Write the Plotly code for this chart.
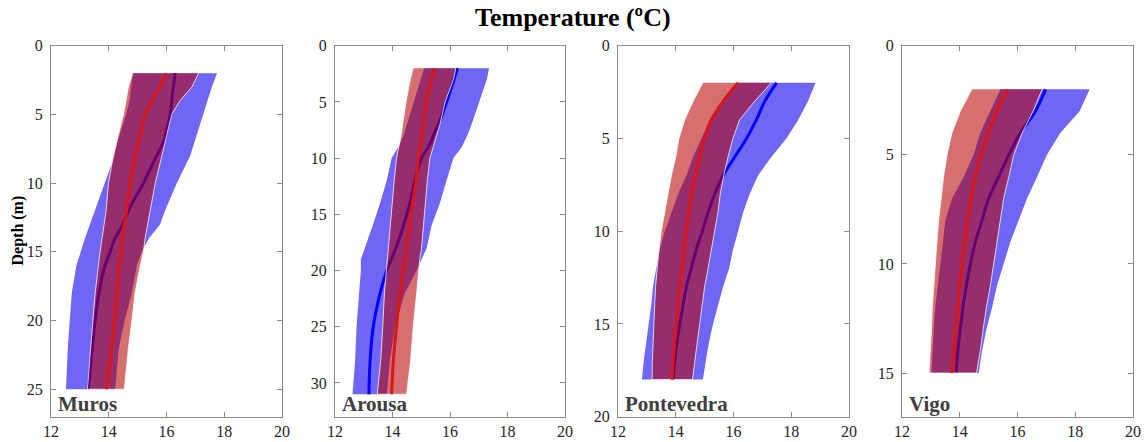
import plotly.graph_objects as go

# ---------------- data (Temperature ºC vs depth m) ----------------
stations = ["Muros", "Arousa", "Pontevedra", "Vigo"]

muros_depth = [2, 3, 4, 5, 6, 7, 8, 10, 12, 13, 14, 15, 16, 18, 20, 22, 25]
muros_blue_mean = [16.30, 16.24, 16.18, 16.13, 16.02, 15.90, 15.66, 15.20, 14.68, 14.49, 14.22, 14.05, 13.87, 13.66, 13.53, 13.43, 13.29]
muros_blue_lo = [14.83, 14.78, 14.72, 14.60, 14.45, 14.30, 14.20, 13.87, 13.53, 13.35, 13.18, 13.02, 12.88, 12.72, 12.64, 12.58, 12.52]
muros_blue_hi = [17.75, 17.57, 17.42, 17.28, 17.12, 16.97, 16.82, 16.36, 15.95, 15.78, 15.40, 15.14, 14.97, 14.80, 14.55, 14.35, 14.22]
muros_red_mean = [15.98, 15.78, 15.49, 15.26, 15.14, 15.03, 14.91, 14.74, 14.62, 14.54, 14.48, 14.42, 14.37, 14.28, 14.20, 14.10, 13.91]
muros_red_lo = [14.83, 14.68, 14.60, 14.51, 14.39, 14.28, 14.16, 13.99, 13.91, 13.84, 13.76, 13.70, 13.64, 13.53, 13.45, 13.38, 13.26]
muros_red_hi = [17.11, 16.88, 16.47, 16.18, 16.07, 15.95, 15.84, 15.61, 15.43, 15.35, 15.26, 15.20, 15.09, 14.91, 14.80, 14.68, 14.54]

arousa_depth = [2, 3, 5, 7, 8, 9, 10, 12, 14, 16, 18, 19, 20, 22, 25, 28, 31]
arousa_blue_mean = [16.26, 16.14, 15.88, 15.60, 15.42, 15.25, 15.01, 14.78, 14.61, 14.38, 14.12, 13.96, 13.80, 13.57, 13.33, 13.22, 13.18]
arousa_blue_lo = [15.10, 14.98, 14.72, 14.49, 14.38, 14.20, 13.97, 13.80, 13.57, 13.31, 13.04, 12.90, 12.90, 12.84, 12.75, 12.70, 12.61]
arousa_blue_hi = [17.36, 17.28, 17.02, 16.75, 16.60, 16.41, 16.12, 15.88, 15.65, 15.36, 15.19, 15.01, 14.84, 14.43, 14.09, 13.91, 13.80]
arousa_red_mean = [15.44, 15.36, 15.17, 15.07, 15.02, 14.96, 14.90, 14.82, 14.70, 14.58, 14.49, 14.44, 14.38, 14.26, 14.14, 14.03, 13.97]
arousa_red_lo = [14.72, 14.62, 14.47, 14.36, 14.30, 14.22, 14.14, 14.06, 13.99, 13.92, 13.86, 13.83, 13.80, 13.72, 13.66, 13.59, 13.47]
arousa_red_hi = [16.20, 16.12, 15.83, 15.65, 15.54, 15.42, 15.30, 15.21, 15.13, 15.07, 15.01, 14.95, 14.90, 14.84, 14.72, 14.63, 14.49]

ponte_depth = [2, 3, 4, 5, 6, 7, 8, 9, 10, 11, 12, 13, 14, 15, 16, 17, 18]
ponte_blue_mean = [17.49, 17.08, 16.79, 16.45, 16.04, 15.64, 15.35, 15.12, 14.92, 14.71, 14.54, 14.37, 14.25, 14.14, 14.04, 13.96, 13.91]
ponte_blue_lo = [16.10, 15.58, 15.18, 14.89, 14.60, 14.37, 14.08, 13.85, 13.62, 13.44, 13.33, 13.21, 13.15, 13.06, 12.96, 12.89, 12.83]
ponte_blue_hi = [18.84, 18.58, 18.24, 17.83, 17.31, 16.85, 16.56, 16.33, 16.16, 15.98, 15.85, 15.64, 15.46, 15.29, 15.15, 15.04, 14.94]
ponte_red_mean = [16.16, 15.64, 15.23, 15.00, 14.83, 14.68, 14.54, 14.45, 14.37, 14.29, 14.22, 14.14, 14.08, 14.02, 13.96, 13.91, 13.87]
ponte_red_lo = [14.94, 14.60, 14.31, 14.11, 14.00, 13.85, 13.73, 13.62, 13.50, 13.42, 13.35, 13.30, 13.27, 13.24, 13.21, 13.19, 13.18]
ponte_red_hi = [17.31, 16.73, 16.21, 15.98, 15.81, 15.66, 15.54, 15.46, 15.35, 15.23, 15.12, 15.00, 14.92, 14.83, 14.75, 14.66, 14.58]

vigo_depth = [2, 3, 4, 5, 6, 7, 8, 9, 10, 11, 12, 13, 14, 15]
vigo_blue_mean = [16.97, 16.62, 16.10, 15.70, 15.35, 15.00, 14.77, 14.54, 14.37, 14.23, 14.11, 14.02, 13.93, 13.88]
vigo_blue_lo = [15.41, 15.06, 14.71, 14.48, 14.14, 13.73, 13.50, 13.42, 13.33, 13.24, 13.15, 13.10, 13.06, 13.02]
vigo_blue_hi = [18.50, 18.15, 17.48, 17.02, 16.68, 16.33, 16.04, 15.75, 15.52, 15.29, 15.12, 14.92, 14.77, 14.66]
vigo_red_mean = [15.64, 15.29, 15.00, 14.75, 14.54, 14.39, 14.28, 14.17, 14.08, 14.00, 13.93, 13.86, 13.79, 13.73]
vigo_red_lo = [14.42, 14.02, 13.73, 13.56, 13.44, 13.35, 13.27, 13.21, 13.15, 13.10, 13.05, 13.02, 12.98, 12.94]
vigo_red_hi = [16.85, 16.54, 16.16, 15.87, 15.70, 15.52, 15.41, 15.29, 15.18, 15.06, 14.92, 14.81, 14.71, 14.58]

x_ticks = [12, 14, 16, 18, 20]
y_max = [27, 33, 20, 17]
y_tick_sets = [[0, 5, 10, 15, 20, 25], [0, 5, 10, 15, 20, 25, 30], [0, 5, 10, 15, 20], [0, 5, 10, 15]]

panels = [
    (muros_depth, muros_blue_mean, muros_blue_lo, muros_blue_hi, muros_red_mean, muros_red_lo, muros_red_hi),
    (arousa_depth, arousa_blue_mean, arousa_blue_lo, arousa_blue_hi, arousa_red_mean, arousa_red_lo, arousa_red_hi),
    (ponte_depth, ponte_blue_mean, ponte_blue_lo, ponte_blue_hi, ponte_red_mean, ponte_red_lo, ponte_red_hi),
    (vigo_depth, vigo_blue_mean, vigo_blue_lo, vigo_blue_hi, vigo_red_mean, vigo_red_lo, vigo_red_hi),
]

# ---------------- styling ----------------
W, H = 1146, 442
x_domains_px = [(51, 282), (335, 565), (618, 849), (902, 1133)]
y_top_px, y_bot_px = 45.7, 416.7
FONT = "Liberation Serif, Times New Roman, serif"
BLUE_FILL = "rgba(15,0,238,0.6)"
RED_FILL = "rgba(182,0,0,0.56)"
BLUE_LINE = "rgb(0,0,255)"
RED_LINE = "rgb(218,22,22)"
AXIS_COL = "#8a8a8a"

fig = go.Figure()
layout_axes = {}
annotations = []

for i, (d, bm, bl, bh, rm, rl, rh) in enumerate(panels):
    n = i + 1
    xa = "x" if n == 1 else f"x{n}"
    ya = "y" if n == 1 else f"y{n}"
    poly_y = list(d) + list(d)[::-1]
    # blue band
    fig.add_trace(go.Scatter(x=list(bl) + list(bh)[::-1], y=poly_y, fill="toself",
                             fillcolor=BLUE_FILL, line=dict(width=0), mode="lines",
                             xaxis=xa, yaxis=ya, showlegend=False, hoverinfo="skip"))
    fig.add_trace(go.Scatter(x=bm, y=d, mode="lines", line=dict(color=BLUE_LINE, width=3, shape="spline"),
                             xaxis=xa, yaxis=ya, showlegend=False))
    # red band
    fig.add_trace(go.Scatter(x=list(rl) + list(rh)[::-1], y=poly_y, fill="toself",
                             fillcolor=RED_FILL, line=dict(width=1, color="rgba(255,255,255,0.75)"),
                             mode="lines", xaxis=xa, yaxis=ya, showlegend=False, hoverinfo="skip"))
    fig.add_trace(go.Scatter(x=rm, y=d, mode="lines", line=dict(color=RED_LINE, width=3, shape="spline"),
                             xaxis=xa, yaxis=ya, showlegend=False))

    x0, x1 = x_domains_px[i]
    common = dict(showline=True, linecolor=AXIS_COL, linewidth=1, mirror="ticks",
                  ticks="inside", ticklen=5, tickcolor=AXIS_COL, showgrid=False, zeroline=False,
                  automargin=False,
                  tickfont=dict(family=FONT, size=16, color="#262626"))
    layout_axes["xaxis" if n == 1 else f"xaxis{n}"] = dict(
        domain=[x0 / W, x1 / W], range=[12, 20], tickvals=x_ticks, anchor=ya, **common)
    layout_axes["yaxis" if n == 1 else f"yaxis{n}"] = dict(
        domain=[1 - y_bot_px / H, 1 - y_top_px / H], range=[y_max[i], 0],
        tickvals=y_tick_sets[i], anchor=xa, ticklabelstandoff=4, **common)
    annotations.append(dict(text=f"<b>{stations[i]}</b>", xref=f"{xa} domain", yref=f"{ya} domain",
                            x=0.02, y=-0.003, xanchor="left", yanchor="bottom", showarrow=False,
                            font=dict(family=FONT, size=21, color="#404040")))

annotations.append(dict(text="<b>Temperature (ºC)</b>", xref="paper", yref="paper",
                        x=0.5, y=1 - 18 / H, xanchor="center", yanchor="middle", showarrow=False,
                        font=dict(family=FONT, size=26, color="black")))
annotations.append(dict(text="<b>Depth (m)</b>", xref="paper", yref="paper",
                        x=17.5 / W, y=1 - 231 / H, xanchor="center", yanchor="middle", textangle=-90,
                        showarrow=False, font=dict(family=FONT, size=16, color="black")))

fig.update_layout(width=W, height=H, margin=dict(l=0, r=0, t=0, b=0, autoexpand=False),
                  paper_bgcolor="white", plot_bgcolor="white", annotations=annotations, **layout_axes)

fig.write_html("out.html")
